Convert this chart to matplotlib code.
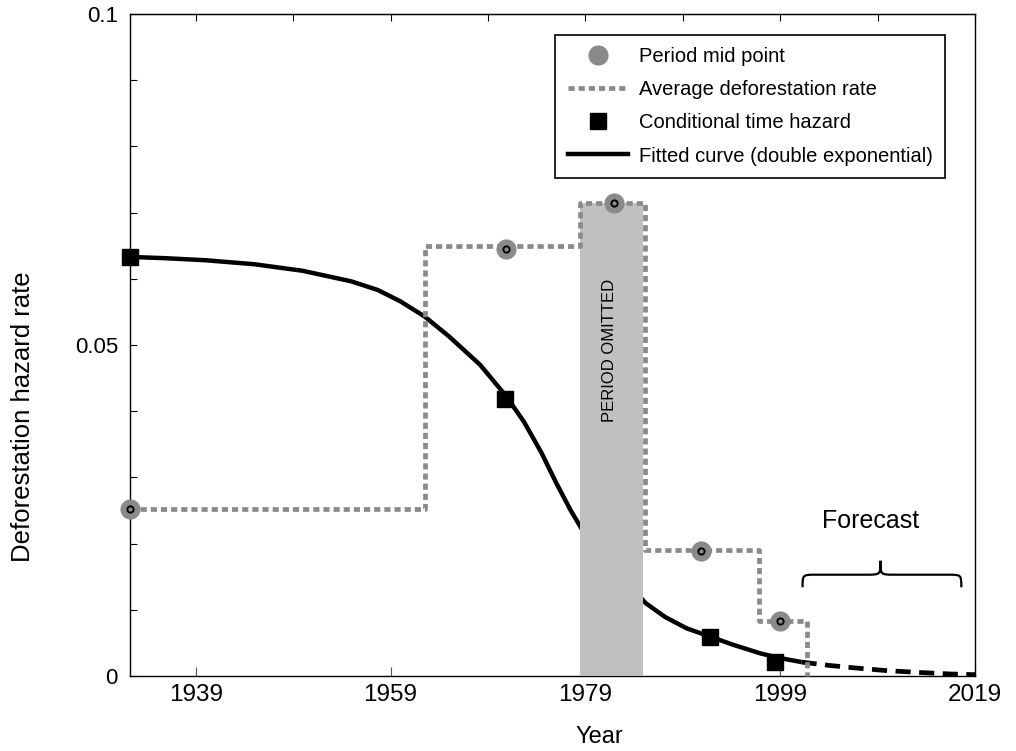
import matplotlib
matplotlib.use("Agg")
import matplotlib.pyplot as plt
from matplotlib.lines import Line2D
from matplotlib.path import Path
from matplotlib.patches import PathPatch

plt.rcParams['font.family'] = ['Liberation Sans', 'DejaVu Sans']

# period mid points (grey circles)
mid_year = [1932.3, 1970.9, 1981.9, 1990.9, 1999.0]
mid_rate = [0.0252, 0.0645, 0.0715, 0.0189, 0.0083]

# average deforestation rate per period (step edges)
step_edges = [1932.3, 1962.5, 1978.5, 1985.1, 1996.8, 2001.8]
step_rate = [0.0252, 0.0650, 0.0715, 0.0190, 0.0083]

# conditional time hazard (black squares)
haz_year = [1932.3, 1970.8, 1991.85, 1998.5]
haz_rate = [0.0633, 0.0419, 0.0059, 0.0021]

# fitted double exponential curve
fit_year = [1932.3, 1936, 1940, 1945, 1950, 1955, 1957.7, 1960, 1962.5, 1965,
            1968.2, 1970.8, 1972.7, 1974.5, 1976, 1977.5, 1979, 1981,
            1983, 1985.2, 1987.2, 1989.4, 1991.9, 1994.2, 1997, 1999, 2001.2]
fit_rate = [0.0633, 0.0631, 0.0628, 0.0622, 0.0612, 0.0596, 0.0583, 0.0566, 0.0543, 0.0513,
            0.0470, 0.0424, 0.0384, 0.0337, 0.0292, 0.0250, 0.0213, 0.0178,
            0.0145, 0.0110, 0.0089, 0.0072, 0.0059, 0.0047, 0.0034, 0.0027, 0.0021]
fc_year = [2001.2, 2004, 2006.8, 2010, 2013.7, 2016.5, 2019]
fc_rate = [0.0021, 0.0016, 0.0012, 0.0008, 0.0005, 0.0003, 0.0002]

omitted = (1978.5, 1984.9, 0.0715)

xticks = [1939, 1959, 1979, 1999, 2019]
yticks = [0, 0.05, 0.1]
ytick_labels = ["0", "0.05", "0.1"]

grey = "#8a8a8a"

fig = plt.figure(figsize=(10.16, 7.51), dpi=100)
ax = fig.add_axes([0.1284, 0.0999, 0.8312, 0.8815])

# fitted curve + forecast
ax.plot(fit_year, fit_rate, color="black", lw=3.2, zorder=2, solid_capstyle="butt",
        solid_joinstyle="round")
ax.plot(fc_year, fc_rate, color="black", lw=3.4, zorder=2, dashes=(3.2, 1.8), dash_capstyle="butt")

# omitted period band
ax.fill_between([omitted[0], omitted[1]], 0, omitted[2], color="#c0c0c0", lw=0, zorder=3)
ax.text((omitted[0] + omitted[1]) / 2 - 0.2, 0.0491, "PERIOD OMITTED", rotation=90,
        ha="center", va="center", fontsize=12, zorder=4)

# average rate steps
ax.plot(step_edges, step_rate + [0], drawstyle="steps-post", color=grey, lw=3.4,
        dashes=(1.3, 0.85), dash_capstyle="butt", zorder=4, clip_on=False)

# markers
ax.plot(haz_year, haz_rate, "s", color="black", ms=11.5, zorder=5, clip_on=False)
ax.plot(mid_year, mid_rate, "o", color=grey, ms=14.5, mew=0, zorder=6, clip_on=False)
ax.plot(mid_year, mid_rate, "o", mfc="none", mec="black", ms=4.5, mew=1.4, zorder=7, clip_on=False)

# forecast brace
bx0, bx1, btip = 2001.3, 2017.6, 2009.3
by0, bym, byt = 0.0134, 0.0153, 0.0174
r = 1.4
verts = [(bx0, by0), (bx0, bym), (bx0, bym), (bx0 + r, bym),
         (btip - r, bym), (btip, bym), (btip, bym), (btip, byt),
         (btip, bym), (btip, bym), (btip + r, bym),
         (bx1 - r, bym), (bx1, bym), (bx1, bym), (bx1, by0)]
codes = [Path.MOVETO, Path.CURVE4, Path.CURVE4, Path.CURVE4,
         Path.LINETO, Path.CURVE4, Path.CURVE4, Path.CURVE4,
         Path.CURVE4, Path.CURVE4, Path.CURVE4,
         Path.LINETO, Path.CURVE4, Path.CURVE4, Path.CURVE4]
ax.add_patch(PathPatch(Path(verts, codes), fill=False, lw=1.6, color="black", zorder=5))
ax.text(btip - 1.0, 0.0234, "Forecast", ha="center", va="center", fontsize=18)

ax.set_xlim(1932.3, 2019)
ax.set_ylim(0, 0.1)
ax.set_xticks(xticks)
ax.set_xticklabels([str(t) for t in xticks], fontsize=17.5)
ax.set_yticks(yticks)
ax.set_yticklabels(ytick_labels, fontsize=16)
ax.set_yticks([i / 100 for i in range(1, 10) if i != 5], minor=True)
ax.tick_params(axis="x", direction="in", length=6.5, width=0.8, pad=6, color="#555555")
ax.tick_params(axis="y", which="both", direction="in", length=5, width=0.8, pad=9)

top = ax.secondary_xaxis("top")
top.set_xticks(list(range(1939, 2020, 10)))
top.set_xticklabels([])
top.tick_params(direction="in", length=5, width=0.8)

for s in ax.spines.values():
    s.set_linewidth(1.0)

ax.set_xlabel("Year", fontsize=17)
ax.xaxis.set_label_coords(0.555, -0.075)
ax.set_ylabel("Deforestation hazard rate", fontsize=18.5)
ax.yaxis.set_label_coords(-0.113, 0.391)

handles = [
    Line2D([], [], ls="none", marker="o", color=grey, ms=14.5, mew=0),
    Line2D([], [], color=grey, lw=3.4, dashes=(1.3, 0.85), dash_capstyle="butt"),
    Line2D([], [], ls="none", marker="s", color="black", ms=11.5),
    Line2D([], [], color="black", lw=3.2),
]
labels = ["Period mid point", "Average deforestation rate",
          "Conditional time hazard", "Fitted curve (double exponential)"]
leg = ax.legend(handles, labels, loc="upper right", bbox_to_anchor=(0.9645, 0.968),
                borderaxespad=0, fontsize=14.5, handlelength=3.0, handletextpad=0.55,
                labelspacing=0.7, fancybox=False, framealpha=1, edgecolor="black",
                borderpad=0.6)
leg.get_frame().set_linewidth(1.2)
leg.set_zorder(10)

fig.savefig("out.png", dpi=100)
